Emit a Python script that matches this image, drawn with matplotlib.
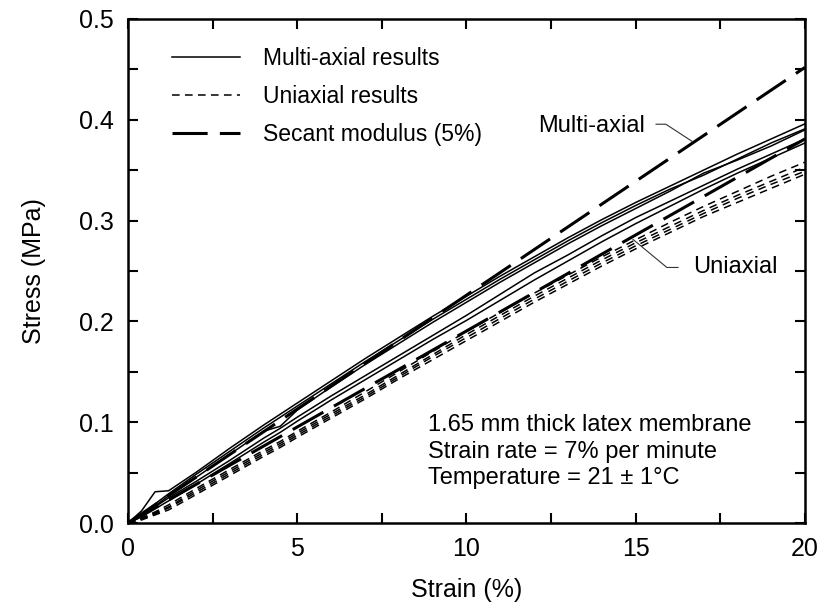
import matplotlib
matplotlib.use("Agg")
import matplotlib.pyplot as plt
from matplotlib.ticker import MultipleLocator, FormatStrFormatter
from matplotlib.lines import Line2D

plt.rcParams['font.family'] = ['Liberation Sans', 'DejaVu Sans']

# strain grid (%)
strain = [0, 0.4, 0.8, 1.2, 2, 3, 4, 4.5, 5, 6, 7, 8, 9, 10, 11, 12, 13, 14, 15, 16, 17, 18, 19, 20]

# multi-axial results (MPa)
multi_1 = [0, 0.012, 0.031, 0.032, 0.050, 0.074, 0.097, 0.108, 0.119, 0.141, 0.163, 0.184, 0.205, 0.225, 0.245, 0.264, 0.283, 0.301, 0.318, 0.334, 0.350, 0.366, 0.381, 0.396]
multi_2 = [0, 0.009, 0.019, 0.029, 0.048, 0.071, 0.094, 0.105, 0.116, 0.138, 0.160, 0.181, 0.202, 0.222, 0.242, 0.261, 0.280, 0.298, 0.315, 0.331, 0.345, 0.361, 0.377, 0.391]
multi_3 = [0, 0.008, 0.017, 0.027, 0.045, 0.068, 0.091, 0.096, 0.112, 0.135, 0.157, 0.178, 0.199, 0.219, 0.239, 0.258, 0.277, 0.295, 0.312, 0.329, 0.347, 0.360, 0.374, 0.390]
multi_4 = [0, 0.007, 0.016, 0.025, 0.041, 0.062, 0.084, 0.094, 0.105, 0.126, 0.146, 0.166, 0.186, 0.206, 0.227, 0.248, 0.266, 0.285, 0.303, 0.319, 0.335, 0.351, 0.366, 0.381]
multi_5 = [0, 0.006, 0.014, 0.022, 0.038, 0.059, 0.080, 0.090, 0.101, 0.122, 0.142, 0.162, 0.182, 0.201, 0.221, 0.241, 0.260, 0.279, 0.297, 0.314, 0.331, 0.347, 0.362, 0.377]

# uniaxial results (MPa)
uni_1 = [0, 0.005, 0.011, 0.018, 0.034, 0.053, 0.072, 0.081, 0.091, 0.110, 0.130, 0.150, 0.170, 0.190, 0.209, 0.228, 0.246, 0.264, 0.281, 0.298, 0.314, 0.329, 0.344, 0.358]
uni_2 = [0, 0.004, 0.010, 0.016, 0.032, 0.051, 0.070, 0.079, 0.089, 0.108, 0.127, 0.147, 0.167, 0.187, 0.206, 0.225, 0.243, 0.261, 0.278, 0.294, 0.310, 0.325, 0.339, 0.353]
uni_3 = [0, 0.004, 0.009, 0.015, 0.030, 0.049, 0.068, 0.077, 0.087, 0.106, 0.125, 0.145, 0.165, 0.184, 0.203, 0.222, 0.240, 0.258, 0.275, 0.291, 0.307, 0.322, 0.336, 0.349]
uni_4 = [0, 0.003, 0.008, 0.013, 0.028, 0.047, 0.066, 0.075, 0.085, 0.104, 0.123, 0.143, 0.162, 0.181, 0.200, 0.219, 0.237, 0.255, 0.272, 0.288, 0.304, 0.318, 0.332, 0.346]

# secant modulus (5%) lines
secant_strain = [0, 20]
secant_multi = [0, 0.452]
secant_uni = [0, 0.381]

legend_labels = ['Multi-axial results', 'Uniaxial results', 'Secant modulus (5%)']
note_lines = ['1.65 mm thick latex membrane', 'Strain rate = 7% per minute', 'Temperature = 21 \u00b1 1\u00b0C']

fig = plt.figure(figsize=(8.22, 6.12), dpi=100)
ax = fig.add_axes([0.1557, 0.1454, 0.8236, 0.8236])

solid_kw = dict(color='black', lw=1.1, ls='-')
dash_kw = dict(color='black', lw=1.1, ls=(0, (5, 3.5)))
sec_kw = dict(color='black', lw=2.2, ls=(0, (11.5, 4)))

for m in [multi_1, multi_2, multi_3, multi_4, multi_5]:
    ax.plot(strain, m, **solid_kw)
for u in [uni_1, uni_2, uni_3, uni_4]:
    ax.plot(strain, u, **dash_kw)
ax.plot(secant_strain, secant_multi, **sec_kw)
ax.plot(secant_strain, secant_uni, **sec_kw)

ax.set_xlim(0, 20)
ax.set_ylim(0, 0.5)
ax.xaxis.set_major_locator(MultipleLocator(5))
ax.xaxis.set_minor_locator(MultipleLocator(2.5))
ax.yaxis.set_major_locator(MultipleLocator(0.1))
ax.yaxis.set_minor_locator(MultipleLocator(0.05))
ax.yaxis.set_major_formatter(FormatStrFormatter('%.1f'))
ax.tick_params(which='both', direction='in', top=True, right=True, length=7, width=1.5, labelsize=18)
ax.tick_params(axis='x', which='major', pad=10)
ax.tick_params(axis='y', which='major', pad=10)
for s in ax.spines.values():
    s.set_linewidth(1.8)

ax.set_xlabel('Strain (%)', fontsize=18, labelpad=12)
ax.set_ylabel('Stress (MPa)', fontsize=18, labelpad=24)

handles = [Line2D([], [], **solid_kw), Line2D([], [], **dash_kw), Line2D([], [], **sec_kw)]
ax.legend(handles, legend_labels,
          loc='upper left', bbox_to_anchor=(0.065, 0.945), frameon=False, fontsize=16.5,
          handlelength=2.97, handletextpad=1.0, labelspacing=0.66, borderaxespad=0, borderpad=0)

for yv, line in zip([0.0974, 0.0706, 0.0447], note_lines):
    ax.text(8.86, yv, line, fontsize=17, va='center', ha='left')

ax.text(15.27, 0.3936, 'Multi-axial', fontsize=17, ha='right', va='center')
ax.plot([15.6, 15.89, 16.66], [0.3956, 0.3956, 0.3787], color='#333333', lw=0.8)
ax.text(16.69, 0.2535, 'Uniaxial', fontsize=17, ha='left', va='center')
ax.plot([14.92, 15.92, 16.25], [0.2813, 0.2535, 0.2535], color='#333333', lw=0.8)

fig.savefig('out.png', dpi=100)
